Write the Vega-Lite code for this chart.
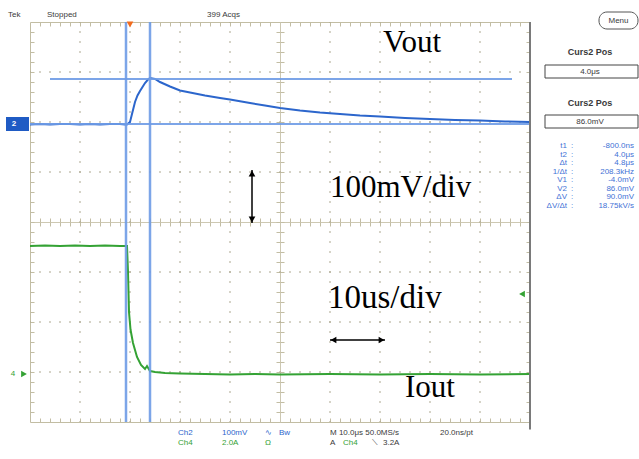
{
  "$schema": "https://vega.github.io/schema/vega-lite/v6.json",
  "width": 500,
  "height": 400,
  "autosize": {"type": "none"},
  "padding": {"left": 30, "top": 22, "right": 109, "bottom": 37},
  "background": "#ffffff",
  "config": {
    "view": {"stroke": "#c2bda3", "strokeWidth": 1},
    "axis": {"labels": false, "domain": false, "ticks": true, "tickColor": "#c2bda3", "tickWidth": 1, "domainColor": "#cdc8b2", "domainWidth": 1},
    "text": {"font": "Liberation Sans"}
  },
  "resolve": {"axis": {"x": "independent", "y": "independent"}},
  "datasets": {
    "traces": [
      {"t": -20, "v": 1.95, "ch": "Ch2"}, {"t": -18, "v": 1.96, "ch": "Ch2"}, {"t": -16, "v": 1.95, "ch": "Ch2"}, {"t": -14, "v": 1.96, "ch": "Ch2"},
      {"t": -12, "v": 1.96, "ch": "Ch2"}, {"t": -10, "v": 1.95, "ch": "Ch2"}, {"t": -8, "v": 1.96, "ch": "Ch2"}, {"t": -6, "v": 1.95, "ch": "Ch2"},
      {"t": -4, "v": 1.96, "ch": "Ch2"}, {"t": -2, "v": 1.96, "ch": "Ch2"}, {"t": -1, "v": 1.95, "ch": "Ch2"}, {"t": -0.6, "v": 1.95, "ch": "Ch2"},
      {"t": 0, "v": 2.0, "ch": "Ch2"}, {"t": 0.5, "v": 2.2, "ch": "Ch2"}, {"t": 1, "v": 2.4, "ch": "Ch2"}, {"t": 1.5, "v": 2.53, "ch": "Ch2"},
      {"t": 2, "v": 2.62, "ch": "Ch2"}, {"t": 3, "v": 2.78, "ch": "Ch2"}, {"t": 3.6, "v": 2.85, "ch": "Ch2"}, {"t": 4.0, "v": 2.88, "ch": "Ch2"},
      {"t": 5, "v": 2.86, "ch": "Ch2"}, {"t": 6, "v": 2.8, "ch": "Ch2"}, {"t": 8, "v": 2.71, "ch": "Ch2"}, {"t": 10, "v": 2.63, "ch": "Ch2"},
      {"t": 12, "v": 2.59, "ch": "Ch2"}, {"t": 15, "v": 2.53, "ch": "Ch2"}, {"t": 18, "v": 2.48, "ch": "Ch2"}, {"t": 20, "v": 2.45, "ch": "Ch2"},
      {"t": 24, "v": 2.38, "ch": "Ch2"}, {"t": 27, "v": 2.33, "ch": "Ch2"}, {"t": 30, "v": 2.28, "ch": "Ch2"}, {"t": 34, "v": 2.23, "ch": "Ch2"},
      {"t": 38, "v": 2.19, "ch": "Ch2"}, {"t": 42, "v": 2.16, "ch": "Ch2"}, {"t": 46, "v": 2.13, "ch": "Ch2"}, {"t": 50, "v": 2.11, "ch": "Ch2"},
      {"t": 55, "v": 2.08, "ch": "Ch2"}, {"t": 60, "v": 2.06, "ch": "Ch2"}, {"t": 65, "v": 2.04, "ch": "Ch2"}, {"t": 70, "v": 2.03, "ch": "Ch2"},
      {"t": 75, "v": 2.01, "ch": "Ch2"}, {"t": 80, "v": 2.0, "ch": "Ch2"},
      {"t": -20, "v": -0.48, "ch": "Ch4"}, {"t": -17, "v": -0.47, "ch": "Ch4"}, {"t": -14, "v": -0.48, "ch": "Ch4"}, {"t": -11, "v": -0.47, "ch": "Ch4"},
      {"t": -8, "v": -0.48, "ch": "Ch4"}, {"t": -5, "v": -0.47, "ch": "Ch4"}, {"t": -2, "v": -0.48, "ch": "Ch4"}, {"t": -0.6, "v": -0.48, "ch": "Ch4"},
      {"t": -0.4, "v": -1.0, "ch": "Ch4"}, {"t": -0.2, "v": -1.8, "ch": "Ch4"}, {"t": 0.1, "v": -2.15, "ch": "Ch4"}, {"t": 0.6, "v": -2.42, "ch": "Ch4"},
      {"t": 1.4, "v": -2.7, "ch": "Ch4"}, {"t": 2.2, "v": -2.86, "ch": "Ch4"}, {"t": 3, "v": -2.94, "ch": "Ch4"}, {"t": 3.4, "v": -2.88, "ch": "Ch4"},
      {"t": 4, "v": -2.98, "ch": "Ch4"}, {"t": 5, "v": -3.0, "ch": "Ch4"}, {"t": 7, "v": -3.02, "ch": "Ch4"}, {"t": 10, "v": -3.03, "ch": "Ch4"},
      {"t": 15, "v": -3.04, "ch": "Ch4"}, {"t": 20, "v": -3.05, "ch": "Ch4"}, {"t": 25, "v": -3.04, "ch": "Ch4"}, {"t": 30, "v": -3.05, "ch": "Ch4"},
      {"t": 40, "v": -3.04, "ch": "Ch4"}, {"t": 50, "v": -3.05, "ch": "Ch4"}, {"t": 60, "v": -3.04, "ch": "Ch4"}, {"t": 70, "v": -3.05, "ch": "Ch4"},
      {"t": 80, "v": -3.04, "ch": "Ch4"}
    ],
    "gridx": [{"t": -10}, {"t": 0}, {"t": 10}, {"t": 20}, {"t": 40}, {"t": 50}, {"t": 60}, {"t": 70}],
    "gridy": [{"v": -3}, {"v": -2}, {"v": -1}, {"v": 1}, {"v": 2}, {"v": 3}],
    "hcur": [{"t1": -16, "t2": 76.4, "v": 2.86}, {"t1": -20, "t2": 80, "v": 1.96}],
    "vcur": [{"t": -0.8}, {"t": 4.0}],
    "markers": [
      {"t": 0, "v": 3.95, "ch": "trig", "dir": "down"},
      {"t": -21.2, "v": -3.04, "ch": "Ch4", "dir": "right"},
      {"t": 78.4, "v": -1.44, "ch": "Ch4", "dir": "left"}
    ],
    "arrows": [
      {"t1": 24.4, "t2": 24.4, "v1": 1.04, "v2": -0.02},
      {"t1": 40, "t2": 51, "v1": -2.36, "v2": -2.36}
    ],
    "heads": [
      {"t": 24.4, "v": 0.97, "dir": "up"},
      {"t": 24.4, "v": 0.05, "dir": "down"},
      {"t": 40.7, "v": -2.36, "dir": "left"},
      {"t": 50.3, "v": -2.36, "dir": "right"}
    ],
    "anno": [
      {"t": 50.6, "v": 3.4, "label": "Vout"},
      {"t": 40, "v": 0.5, "label": "100mV/div"},
      {"t": 55, "v": -3.5, "label": "Iout"}
    ],
    "anno2": [
      {"t": 39.6, "v": -1.72, "label": "10us/div"}
    ],
    "status": [
      {"t": -24.4, "v": 4.1, "label": "Tek"},
      {"t": -16.6, "v": 4.1, "label": "Stopped"},
      {"t": 15.4, "v": 4.1, "label": "399 Acqs"}
    ],
    "bottom": [
      {"t": 9.6, "v": -4.22, "label": "Ch2", "ch": "Ch2"},
      {"t": 18.4, "v": -4.22, "label": "100mV", "ch": "Ch2"},
      {"t": 27, "v": -4.22, "label": "∿", "ch": "Ch2"},
      {"t": 29.8, "v": -4.22, "label": "Bw", "ch": "Ch2"},
      {"t": 40, "v": -4.22, "label": "M 10.0μs 50.0MS/s", "ch": "none"},
      {"t": 62, "v": -4.22, "label": "20.0ns/pt", "ch": "none"},
      {"t": 9.6, "v": -4.42, "label": "Ch4", "ch": "Ch4"},
      {"t": 18.4, "v": -4.42, "label": "2.0A", "ch": "Ch4"},
      {"t": 27, "v": -4.42, "label": "Ω", "ch": "Ch4"},
      {"t": 40, "v": -4.42, "label": "A", "ch": "none"},
      {"t": 42.6, "v": -4.42, "label": "Ch4", "ch": "Ch4"},
      {"t": 48.4, "v": -4.42, "label": "⟍", "ch": "none"},
      {"t": 50.6, "v": -4.42, "label": "3.2A", "ch": "none"}
    ],
    "pbox": [
      {"x1": 83, "x2": 101.6, "y1": 3.14, "y2": 2.88, "label": "4.0μs", "ym": 3.01},
      {"x1": 83, "x2": 101.6, "y1": 2.14, "y2": 1.88, "label": "86.0mV", "ym": 2.01}
    ],
    "menu": [{"x1": 93.8, "x2": 101.6, "y1": 4.2, "y2": 3.86, "label": "Menu", "xm": 97.7, "ym": 4.03}],
    "heads2": [{"v": 3.4, "label": "Curs2 Pos"}, {"v": 2.38, "label": "Curs2 Pos"}],
    "readout": [
      {"v": 1.52, "lab": "t1", "val": "-800.0ns"},
      {"v": 1.35, "lab": "t2", "val": "4.0μs"},
      {"v": 1.18, "lab": "Δt", "val": "4.8μs"},
      {"v": 1.01, "lab": "1/Δt", "val": "208.3kHz"},
      {"v": 0.84, "lab": "V1", "val": "-4.0mV"},
      {"v": 0.67, "lab": "V2", "val": "86.0mV"},
      {"v": 0.5, "lab": "ΔV", "val": "90.0mV"},
      {"v": 0.33, "lab": "ΔV/Δt", "val": "18.75kV/s"}
    ],
    "chbox": [{"x1": -24.8, "x2": -20.2, "y1": 2.1, "y2": 1.82, "label": "2", "xm": -23.2, "ym": 1.96}],
    "ch4lab": [{"t": -23.4, "v": -3.04, "label": "4"}]
  },
  "layer": [
    {
      "data": {"name": "gridx"},
      "mark": {"type": "rule", "color": "#aca78f", "strokeWidth": 1, "strokeDash": [2, 8], "strokeDashOffset": 1},
      "encoding": {
        "x": {"field": "t", "type": "quantitative", "axis": null, "scale": {"domain": [-20, 80], "nice": false, "zero": false}}
      }
    },
    {
      "data": {"name": "gridy"},
      "mark": {"type": "rule", "color": "#aca78f", "strokeWidth": 1, "strokeDash": [2, 8], "strokeDashOffset": 1},
      "encoding": {
        "y": {"field": "v", "type": "quantitative", "axis": null, "scale": {"domain": [-4, 4], "nice": false, "zero": false}}
      }
    },
    {
      "data": {"name": "traces"},
      "mark": {"type": "point", "opacity": 0},
      "encoding": {
        "x": {"field": "t", "type": "quantitative", "scale": {"domain": [-20, 80], "nice": false, "zero": false},
              "axis": {"orient": "bottom", "offset": -4, "tickSize": 4, "title": null,
                       "values": [-18,-16,-14,-12,-10,-8,-6,-4,-2,0,2,4,6,8,10,12,14,16,18,20,22,24,26,28,30,32,34,36,38,40,42,44,46,48,50,52,54,56,58,60,62,64,66,68,70,72,74,76,78]}},
        "y": {"field": "v", "type": "quantitative", "scale": {"domain": [-4, 4], "nice": false, "zero": false},
              "axis": {"orient": "left", "offset": -4, "tickSize": 4, "title": null,
                       "values": [-3.8,-3.6,-3.4,-3.2,-3,-2.8,-2.6,-2.4,-2.2,-2,-1.8,-1.6,-1.4,-1.2,-1,-0.8,-0.6,-0.4,-0.2,0,0.2,0.4,0.6,0.8,1,1.2,1.4,1.6,1.8,2,2.2,2.4,2.6,2.8,3,3.2,3.4,3.6,3.8]}}
      }
    },
    {
      "data": {"name": "traces"},
      "mark": {"type": "point", "opacity": 0},
      "encoding": {
        "x": {"field": "t", "type": "quantitative", "scale": {"domain": [-20, 80], "nice": false, "zero": false},
              "axis": {"orient": "top", "offset": -4, "tickSize": 4, "title": null,
                       "values": [-18,-16,-14,-12,-10,-8,-6,-4,-2,0,2,4,6,8,10,12,14,16,18,20,22,24,26,28,30,32,34,36,38,40,42,44,46,48,50,52,54,56,58,60,62,64,66,68,70,72,74,76,78]}},
        "y": {"field": "v", "type": "quantitative", "scale": {"domain": [-4, 4], "nice": false, "zero": false},
              "axis": {"orient": "right", "offset": -4, "tickSize": 4, "title": null,
                       "values": [-3.8,-3.6,-3.4,-3.2,-3,-2.8,-2.6,-2.4,-2.2,-2,-1.8,-1.6,-1.4,-1.2,-1,-0.8,-0.6,-0.4,-0.2,0,0.2,0.4,0.6,0.8,1,1.2,1.4,1.6,1.8,2,2.2,2.4,2.6,2.8,3,3.2,3.4,3.6,3.8]}}
      }
    },
    {
      "data": {"name": "traces"},
      "mark": {"type": "point", "opacity": 0},
      "encoding": {
        "x": {"field": "t", "type": "quantitative", "scale": {"domain": [-20, 80], "nice": false, "zero": false},
              "axis": {"orient": "bottom", "offset": -200, "tickSize": 4, "domain": true, "title": null,
                       "values": [-18,-16,-14,-12,-10,-8,-6,-4,-2,0,2,4,6,8,10,12,14,16,18,20,22,24,26,28,30,32,34,36,38,40,42,44,46,48,50,52,54,56,58,60,62,64,66,68,70,72,74,76,78]}},
        "y": {"field": "v", "type": "quantitative", "scale": {"domain": [-4, 4], "nice": false, "zero": false},
              "axis": {"orient": "left", "offset": -250, "tickSize": 4, "domain": true, "title": null,
                       "values": [-3.8,-3.6,-3.4,-3.2,-3,-2.8,-2.6,-2.4,-2.2,-2,-1.8,-1.6,-1.4,-1.2,-1,-0.8,-0.6,-0.4,-0.2,0,0.2,0.4,0.6,0.8,1,1.2,1.4,1.6,1.8,2,2.2,2.4,2.6,2.8,3,3.2,3.4,3.6,3.8]}}
      }
    },
    {
      "data": {"name": "traces"},
      "mark": {"type": "point", "opacity": 0},
      "encoding": {
        "x": {"field": "t", "type": "quantitative", "scale": {"domain": [-20, 80], "nice": false, "zero": false},
              "axis": {"orient": "top", "offset": -200, "tickSize": 4, "title": null,
                       "values": [-18,-16,-14,-12,-10,-8,-6,-4,-2,0,2,4,6,8,10,12,14,16,18,20,22,24,26,28,30,32,34,36,38,40,42,44,46,48,50,52,54,56,58,60,62,64,66,68,70,72,74,76,78]}},
        "y": {"field": "v", "type": "quantitative", "scale": {"domain": [-4, 4], "nice": false, "zero": false},
              "axis": {"orient": "right", "offset": -250, "tickSize": 4, "title": null,
                       "values": [-3.8,-3.6,-3.4,-3.2,-3,-2.8,-2.6,-2.4,-2.2,-2,-1.8,-1.6,-1.4,-1.2,-1,-0.8,-0.6,-0.4,-0.2,0,0.2,0.4,0.6,0.8,1,1.2,1.4,1.6,1.8,2,2.2,2.4,2.6,2.8,3,3.2,3.4,3.6,3.8]}}
      }
    },
    {
      "data": {"name": "traces"},
      "mark": {"type": "line", "strokeWidth": 2},
      "encoding": {
        "x": {"field": "t", "type": "quantitative", "axis": null},
        "y": {"field": "v", "type": "quantitative", "axis": null},
        "color": {"field": "ch", "type": "nominal", "legend": null,
                  "scale": {"domain": ["Ch2", "Ch4", "none", "trig"], "range": ["#2c66cc", "#34a234", "#3a3a3a", "#f26b1d"]}}
      }
    },
    {
      "data": {"name": "hcur"},
      "mark": {"type": "rule", "color": "#6e9be6", "strokeWidth": 2, "opacity": 0.9},
      "encoding": {
        "x": {"field": "t1", "type": "quantitative", "axis": null},
        "x2": {"field": "t2"},
        "y": {"field": "v", "type": "quantitative", "axis": null}
      }
    },
    {
      "data": {"name": "vcur"},
      "mark": {"type": "rule", "color": "#6e9be6", "strokeWidth": 2.5, "opacity": 0.9},
      "encoding": {
        "x": {"field": "t", "type": "quantitative", "axis": null}
      }
    },
    {
      "data": {"values": [{"t": 80, "v1": 4, "v2": -4.15}]},
      "mark": {"type": "rule", "color": "#7a7a7a", "strokeWidth": 2},
      "encoding": {
        "x": {"field": "t", "type": "quantitative", "axis": null},
        "y": {"field": "v1", "type": "quantitative", "axis": null},
        "y2": {"field": "v2"}
      }
    },
    {
      "data": {"name": "markers"},
      "mark": {"type": "point", "filled": true, "size": 45, "opacity": 1},
      "encoding": {
        "x": {"field": "t", "type": "quantitative", "axis": null},
        "y": {"field": "v", "type": "quantitative", "axis": null},
        "color": {"field": "ch", "type": "nominal", "legend": null,
                  "scale": {"domain": ["Ch2", "Ch4", "none", "trig"], "range": ["#2c66cc", "#34a234", "#3a3a3a", "#f26b1d"]}},
        "shape": {"field": "dir", "type": "nominal", "legend": null,
                  "scale": {"domain": ["up", "down", "left", "right"], "range": ["triangle-up", "triangle-down", "triangle-left", "triangle-right"]}}
      }
    },
    {
      "data": {"name": "arrows"},
      "mark": {"type": "rule", "color": "#000000", "strokeWidth": 1.5},
      "encoding": {
        "x": {"field": "t1", "type": "quantitative", "axis": null},
        "x2": {"field": "t2"},
        "y": {"field": "v1", "type": "quantitative", "axis": null},
        "y2": {"field": "v2"}
      }
    },
    {
      "data": {"name": "heads"},
      "mark": {"type": "point", "filled": true, "size": 45, "color": "#000000", "opacity": 1},
      "encoding": {
        "x": {"field": "t", "type": "quantitative", "axis": null},
        "y": {"field": "v", "type": "quantitative", "axis": null},
        "shape": {"field": "dir", "type": "nominal", "legend": null,
                  "scale": {"domain": ["up", "down", "left", "right"], "range": ["triangle-up", "triangle-down", "triangle-left", "triangle-right"]}}
      }
    },
    {
      "data": {"name": "anno"},
      "mark": {"type": "text", "font": "Liberation Serif", "fontSize": 31, "align": "left", "baseline": "alphabetic", "color": "#000000"},
      "encoding": {
        "x": {"field": "t", "type": "quantitative", "axis": null},
        "y": {"field": "v", "type": "quantitative", "axis": null},
        "text": {"field": "label"}
      }
    },
    {
      "data": {"name": "anno2"},
      "mark": {"type": "text", "font": "Liberation Serif", "fontSize": 33, "align": "left", "baseline": "alphabetic", "color": "#000000"},
      "encoding": {
        "x": {"field": "t", "type": "quantitative", "axis": null},
        "y": {"field": "v", "type": "quantitative", "axis": null},
        "text": {"field": "label"}
      }
    },
    {
      "data": {"name": "status"},
      "mark": {"type": "text", "fontSize": 8, "align": "left", "baseline": "alphabetic", "color": "#3a3a3a"},
      "encoding": {
        "x": {"field": "t", "type": "quantitative", "axis": null},
        "y": {"field": "v", "type": "quantitative", "axis": null},
        "text": {"field": "label"}
      }
    },
    {
      "data": {"name": "bottom"},
      "mark": {"type": "text", "fontSize": 8, "align": "left", "baseline": "middle"},
      "encoding": {
        "x": {"field": "t", "type": "quantitative", "axis": null},
        "y": {"field": "v", "type": "quantitative", "axis": null},
        "text": {"field": "label"},
        "color": {"field": "ch", "type": "nominal", "legend": null,
                  "scale": {"domain": ["Ch2", "Ch4", "none", "trig"], "range": ["#2c66cc", "#34a234", "#3a3a3a", "#f26b1d"]}}
      }
    },
    {
      "data": {"name": "chbox"},
      "mark": {"type": "rect", "color": "#1f5bc4"},
      "encoding": {
        "x": {"field": "x1", "type": "quantitative", "axis": null},
        "x2": {"field": "x2"},
        "y": {"field": "y1", "type": "quantitative", "axis": null},
        "y2": {"field": "y2"}
      }
    },
    {
      "data": {"name": "chbox"},
      "mark": {"type": "text", "fontSize": 8, "fontWeight": "bold", "align": "center", "baseline": "middle", "color": "#ffffff"},
      "encoding": {
        "x": {"field": "xm", "type": "quantitative", "axis": null},
        "y": {"field": "ym", "type": "quantitative", "axis": null},
        "text": {"field": "label"}
      }
    },
    {
      "data": {"name": "ch4lab"},
      "mark": {"type": "text", "fontSize": 8, "align": "center", "baseline": "middle", "color": "#34a234"},
      "encoding": {
        "x": {"field": "t", "type": "quantitative", "axis": null},
        "y": {"field": "v", "type": "quantitative", "axis": null},
        "text": {"field": "label"}
      }
    },
    {
      "data": {"name": "menu"},
      "mark": {"type": "rect", "fill": "#ffffff", "stroke": "#555555", "strokeWidth": 1, "cornerRadius": 8},
      "encoding": {
        "x": {"field": "x1", "type": "quantitative", "axis": null},
        "x2": {"field": "x2"},
        "y": {"field": "y1", "type": "quantitative", "axis": null},
        "y2": {"field": "y2"}
      }
    },
    {
      "data": {"name": "menu"},
      "mark": {"type": "text", "fontSize": 8, "align": "center", "baseline": "middle", "color": "#3a3a3a"},
      "encoding": {
        "x": {"field": "xm", "type": "quantitative", "axis": null},
        "y": {"field": "ym", "type": "quantitative", "axis": null},
        "text": {"field": "label"}
      }
    },
    {
      "data": {"name": "heads2"},
      "mark": {"type": "text", "fontSize": 9, "fontWeight": "bold", "align": "center", "baseline": "middle", "color": "#3a3a3a"},
      "encoding": {
        "x": {"datum": 92, "type": "quantitative", "axis": null},
        "y": {"field": "v", "type": "quantitative", "axis": null},
        "text": {"field": "label"}
      }
    },
    {
      "data": {"name": "pbox"},
      "mark": {"type": "rect", "fill": "#ffffff", "stroke": "#444444", "strokeWidth": 1},
      "encoding": {
        "x": {"field": "x1", "type": "quantitative", "axis": null},
        "x2": {"field": "x2"},
        "y": {"field": "y1", "type": "quantitative", "axis": null},
        "y2": {"field": "y2"}
      }
    },
    {
      "data": {"name": "pbox"},
      "mark": {"type": "text", "fontSize": 8, "align": "center", "baseline": "middle", "color": "#3a3a3a"},
      "encoding": {
        "x": {"datum": 92, "type": "quantitative", "axis": null},
        "y": {"field": "ym", "type": "quantitative", "axis": null},
        "text": {"field": "label"}
      }
    },
    {
      "data": {"name": "readout"},
      "mark": {"type": "text", "fontSize": 8, "align": "right", "baseline": "middle", "color": "#3f72d6"},
      "encoding": {
        "x": {"datum": 87.4, "type": "quantitative", "axis": null},
        "y": {"field": "v", "type": "quantitative", "axis": null},
        "text": {"field": "lab"}
      }
    },
    {
      "data": {"name": "readout"},
      "mark": {"type": "text", "fontSize": 8, "align": "center", "baseline": "middle", "color": "#3f72d6", "text": ":"},
      "encoding": {
        "x": {"datum": 88.4, "type": "quantitative", "axis": null},
        "y": {"field": "v", "type": "quantitative", "axis": null}
      }
    },
    {
      "data": {"name": "readout"},
      "mark": {"type": "text", "fontSize": 8, "align": "right", "baseline": "middle", "color": "#3f72d6"},
      "encoding": {
        "x": {"datum": 100.8, "type": "quantitative", "axis": null},
        "y": {"field": "v", "type": "quantitative", "axis": null},
        "text": {"field": "val"}
      }
    }
  ]
}
